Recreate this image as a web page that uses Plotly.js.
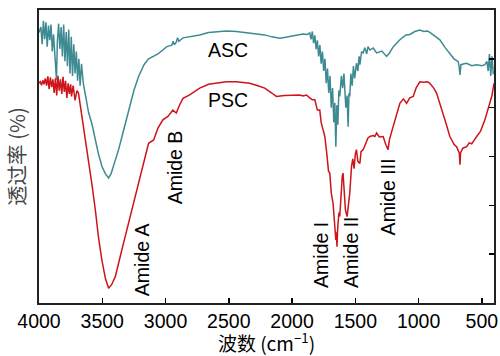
<!DOCTYPE html>
<html>
<head>
<meta charset="utf-8">
<script src="https://cdn.plot.ly/plotly-3.0.1.min.js"></script>
<style>html,body{margin:0;padding:0;background:#fff;}#chart{width:500px;height:356px;}</style>
</head>
<body>
<div id="chart"></div>
<script>
// ASC spectrum (wavenumber cm^-1, transmittance arbitrary units)
const ascWavenumber = [4000,3985,3975,3965,3955,3945,3935,3925,3915,3905,3895,3885,3870,3862,3855,3845,3835,3825,3815,3805,3795,3785,3775,3765,3755,3745,3735,3725,3715,3705,3695,3685,3675,3664,
  3650,3630,3608,3580,3555,3530,3503,3476,3450,3430,3400,3371,3340,3292,3250,3213,3170,3134,3094,3060,3021,2990,2950,2940,2930,2915,2905,2895,2862,2800,2730,2660,2598,2520,2440,2380,2335,2280,2216,2160,2097,2050,1992,1950,1913,1880,1860,
  1850,1840,1830,1820,1810,1800,1790,1780,1770,1760,1750,1740,1730,1720,1710,1700,1690,1680,1670,1662,1654,1646,1638,1630,1623,1610,1600,1590,1575,1565,1557,1550,1544,1535,1525,1515,1505,1491,1480,1470,1464,1450,1438,1425,1410,1400,1385,1359,1332,1290,1253,1230,1200,1148,1100,1069,1030,990,960,930,911,870,832,790,753,720,687,680,673,665,640,620,580,541,500,476,460,450,440,430,420,410,404];
const ascValues = [55.4,56.5,53.0,57.8,54.0,57.5,52.5,56.8,53.8,57.0,51.5,55.0,49.0,45.7,53.5,57.2,52.0,56.5,50.5,57.0,49.5,55.5,48.5,56.0,47.0,54.5,46.5,53.0,47.0,51.5,45.5,50.0,44.5,49.0,
  45.0,42.5,39.0,36.5,33.5,30.5,28.0,26.5,25.6,26.5,29.0,31.4,34.5,39.5,43.5,46.4,48.8,50.0,50.5,51.0,51.8,52.5,52.8,53.6,52.9,53.4,54.3,53.6,54.3,54.6,54.9,55.4,55.6,55.7,55.6,55.4,55.3,55.0,54.9,54.5,54.2,54.4,54.7,54.9,55.1,55.0,55.3,
  54.0,55.6,53.2,54.8,52.0,53.8,50.5,52.8,49.0,51.5,47.5,50.0,45.0,48.0,43.0,46.5,40.0,44.0,37.0,41.0,32.0,40.5,36.5,43.5,42.3,46.5,44.0,47.0,40.0,42.5,36.1,43.0,42.3,47.0,44.5,48.5,46.0,49.1,47.5,50.5,48.8,51.5,51.2,52.3,51.0,52.5,51.8,52.2,51.2,51.6,50.5,51.2,52.5,53.9,54.9,55.0,55.6,55.9,55.6,55.7,55.4,54.6,53.9,52.3,51.2,50.0,49.4,48.5,46.7,48.8,49.0,49.1,48.6,48.8,48.6,48.8,49.5,47.5,51.0,46.5,50.5,47.0,47.1];

// PSC spectrum
const pscWavenumber = [4000,3990,3980,3970,3960,3950,3940,3930,3920,3910,3900,3890,3880,3870,3860,3850,3840,3830,3820,3810,3800,3790,3780,3770,3760,3750,3743,3730,3715,3700,3688,3670,3648,3630,3608,3580,3555,3530,3503,3475,3450,3425,3397,3370,3345,3320,3292,3265,3239,3213,3187,3160,3134,3094,3060,3021,2981,2942,2915,2890,2862,2809,2730,2660,2598,2520,2440,2380,2335,2270,2216,2160,2124,2060,1992,1940,1913,1886,1860,1840,1820,1800,1781,1770,1755,1741,1725,1712,1702,1690,1676,1665,1658,1654,1650,1645,1640,1630,1623,1612,1603,1597,1588,1578,1565,1557,1550,1544,1530,1520,1510,1500,1491,1480,1464,1455,1438,1420,1400,1385,1360,1346,1332,1310,1280,1260,1241,1230,1201,1170,1148,1120,1095,1070,1043,1020,990,960,930,911,880,858,830,806,780,753,720,700,685,678,673,668,650,620,600,580,541,510,476,455,436,420,404];
const pscValues = [45.0,45.3,44.6,45.6,44.8,46.0,44.5,46.4,43.8,46.2,44.2,45.8,43.0,46.0,42.5,46.5,43.5,45.8,42.8,46.3,43.2,45.5,42.0,45.0,42.8,44.8,42.3,44.5,41.5,43.5,43.0,40.0,36.1,33.0,29.3,24.0,19.1,13.5,8.8,5.0,3.0,3.8,5.4,8.0,10.9,13.5,16.3,19.0,21.8,24.5,27.3,30.0,32.7,33.4,35.8,37.5,38.2,39.5,38.9,40.5,41.9,42.6,44.0,44.8,45.0,45.3,45.3,45.1,45.0,44.5,44.0,43.0,42.3,42.5,42.6,42.6,42.4,42.6,42.0,41.6,41.6,39.5,39.5,37.0,35.5,34.1,30.5,27.0,26.6,22.5,20.4,16.0,13.5,12.9,14.5,11.5,15.0,18.5,17.7,24.0,26.0,26.6,22.0,19.0,17.7,19.5,21.0,22.5,28.0,29.5,27.5,30.5,31.4,29.0,28.6,31.0,31.4,32.5,33.8,34.1,34.3,34.1,34.8,34.0,34.1,32.5,31.4,33.5,36.1,38.5,40.9,41.8,40.9,42.0,42.3,44.0,45.3,45.2,45.3,45.0,44.0,43.0,40.8,38.9,36.5,34.1,32.5,32.0,31.2,30.7,28.3,30.8,31.7,32.0,32.8,32.6,34.1,35.2,37.5,39.5,40.9,42.5,45.0];

// Text labels
const labelText = ["ASC","PSC","Amide A","Amide B","Amide I","Amide II","Amide III"];
const labelX = [2509,2509,3185,2928,1773,1540,1243];
const labelY = [51.8,41.6,8.8,27.7,9.8,10.5,21.8];
const labelAngle = [0,0,-90,-90,-90,-90,-90];

const xTickVals = [4000,3500,3000,2500,2000,1500,1000,500];
const yRange = [0,60];

const FONT = "Liberation Sans, Arial, Helvetica, sans-serif";

const traces = [
  {x: ascWavenumber, y: ascValues, type:'scatter', mode:'lines', name:'ASC',
   line:{color:'#3e8a93', width:1.5}},
  {x: pscWavenumber, y: pscValues, type:'scatter', mode:'lines', name:'PSC',
   line:{color:'#cc141a', width:1.5}},
  {x: [], y: [], yaxis:'y2', type:'scatter', mode:'lines', showlegend:false, hoverinfo:'skip'}
];

const annotations = labelText.map((t,i)=>({
  x: labelX[i], y: labelY[i], xref:'x', yref:'y', text: t, showarrow:false,
  textangle: labelAngle[i], font:{family:FONT, size:19.5, color:'#000'}
}));

const layout = {
  width:500, height:356,
  margin:{l:39, r:6, t:10, b:53, pad:0},
  paper_bgcolor:'#fff', plot_bgcolor:'#fff',
  showlegend:false,
  font:{family:FONT, size:19, color:'#000'},
  xaxis:{
    range:[4000,404], autorange:false,
    tickvals:xTickVals, ticktext:xTickVals.map(String),
    ticks:'inside', ticklen:5, tickwidth:1.5, tickcolor:'#000',
    showline:true, linecolor:'#222', linewidth:2, mirror:true,
    showgrid:false, zeroline:false,
    tickfont:{family:FONT, size:19.5, color:'#000'},
    title:{text:'波数 (cm<sup>−1</sup>)', font:{family:"Noto Sans CJK SC, "+FONT, size:19, color:'#000'}, standoff:2}
  },
  yaxis:{
    range:yRange, autorange:false,
    showticklabels:false, ticks:'',
    showline:true, linecolor:'#222', linewidth:2, mirror:true,
    showgrid:false, zeroline:false,
    title:{text:'透过率 (%)', font:{family:"Noto Sans CJK SC, "+FONT, size:20.5, color:'#444'}, standoff:6}
  },
  yaxis2:{
    range:yRange, autorange:false, overlaying:'y', side:'right',
    dtick:10, tick0:0, ticks:'inside', ticklen:5, tickwidth:1.5, tickcolor:'#000',
    showticklabels:false, showline:false, showgrid:false, zeroline:false
  },
  annotations: annotations
};

Plotly.newPlot('chart', traces, layout, {staticPlot:true, displayModeBar:false});
</script>
</body>
</html>
